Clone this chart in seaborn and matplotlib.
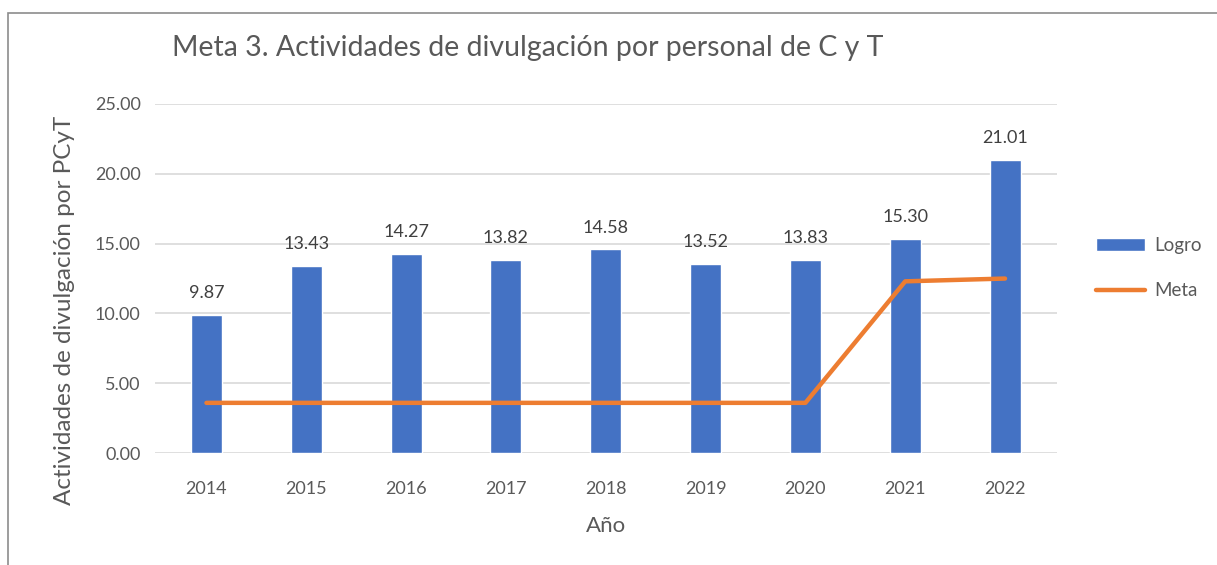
import pandas as pd
import numpy as np
import matplotlib
matplotlib.use("Agg")
import matplotlib.pyplot as plt
import seaborn as sns
from matplotlib.patches import Rectangle

# data
years = ["2014", "2015", "2016", "2017", "2018", "2019", "2020", "2021", "2022"]
logro = [9.87, 13.43, 14.27, 13.82, 14.58, 13.52, 13.83, 15.30, 21.01]
meta = [3.6, 3.6, 3.6, 3.6, 3.6, 3.6, 3.6, 12.3, 12.5]

df = pd.DataFrame({"Año": years, "Logro": logro, "Meta": meta})

sns.set_theme(style="white")
plt.rcParams["font.family"] = ["Lato", "DejaVu Sans"]

fig = plt.figure(figsize=(12.17, 5.65), dpi=100)
ax = fig.add_axes([0.127, 0.198, 0.7415, 0.618])

# chart frame (top / left border of the pasted chart)
fig.patches.append(Rectangle((8 / 1217, -0.1), 1.2, 1 - 13 / 565 + 0.1,
                             transform=fig.transFigure, fill=False,
                             edgecolor="#8c8c8c", linewidth=1.2))

sns.barplot(data=df, x="Año", y="Logro", color="#4472C4", width=0.31,
            saturation=1, ax=ax, label="Logro", zorder=2)
sns.lineplot(x=np.arange(len(years)), y=meta, color="#ED7D31", linewidth=3.2,
             ax=ax, label="Meta", zorder=3)

for i, v in enumerate(logro):
    ax.text(i, v + 1.0, f"{v:.2f}", ha="center", va="bottom",
            fontsize=13, color="#404040")

ax.set_ylim(0, 25)
ax.set_yticks(np.arange(0, 25.1, 5))
ax.set_yticklabels([f"{t:.2f}" for t in np.arange(0, 25.1, 5)])
ax.set_xlim(-0.52, len(years) - 0.48)
ax.yaxis.grid(True, color="#d9d9d9", linewidth=1.2)
ax.set_axisbelow(True)
for s in ax.spines.values():
    s.set_visible(False)
ax.tick_params(axis="both", length=0, labelsize=13, labelcolor="#595959")
ax.tick_params(axis="x", pad=20)
ax.tick_params(axis="y", pad=10)

ax.set_xlabel("Año", fontsize=16, color="#595959", labelpad=14)
ax.set_ylabel("Actividades de divulgación por PCyT", fontsize=17.5, color="#595959")
ax.yaxis.set_label_coords(-0.088, 0.41)

fig.text(172 / 1217, 1 - 48 / 565, "Meta 3. Actividades de divulgación por personal de C y T",
         fontsize=20.5, color="#595959", va="center", ha="left")

handles, labels = ax.get_legend_handles_labels()
order = [labels.index("Logro"), labels.index("Meta")]
ax.legend([handles[i] for i in order], [labels[i] for i in order],
          loc="center left", bbox_to_anchor=(1.025, 0.53), frameon=False,
          fontsize=13.5, labelcolor="#595959", handlelength=2.6, labelspacing=1.5,
          handletextpad=0.5)

fig.savefig("out.png", dpi=100)
